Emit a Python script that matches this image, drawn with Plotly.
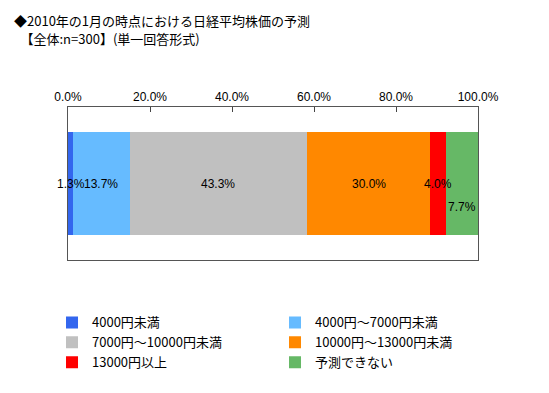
import plotly.graph_objects as go

categories = ["4000円未満", "4000円～7000円未満", "7000円～10000円未満",
              "10000円～13000円未満", "13000円以上", "予測できない"]
values = [1.3, 13.7, 43.3, 30.0, 4.0, 7.7]
colors = ["#3366EE", "#66BBFF", "#C0C0C0", "#FF8800", "#FF0000", "#66B866"]
label_yshift = [0, 0, 0, 0, 0, -23]
tick_vals = [0, 0.2, 0.4, 0.6, 0.8, 1.0]
title_lines = ["◆2010年の1月の時点における日経平均株価の予測",
               "　【全体:n=300】(単一回答形式)"]

W, H = 541, 385  # page body adds an 8px offset

fig = go.Figure()
for name, v, c in zip(categories, values, colors):
    fig.add_trace(go.Bar(
        x=[v / 100], y=["全体"], name=name, orientation="h",
        marker=dict(color=c, line=dict(width=0)),
        hoverinfo="skip",
    ))

cum = 0
for v, ys in zip(values, label_yshift):
    fig.add_annotation(x=(cum + v / 2) / 100, y="全体", text=f"{v:.1f}%",
                       showarrow=False, yshift=ys,
                       font=dict(family="Liberation Sans, Arial", size=12, color="#000"))
    cum += v

fig.update_layout(
    width=W, height=H,
    barmode="stack", bargap=0.327,
    plot_bgcolor="white", paper_bgcolor="white",
    margin=dict(l=60, r=71, t=99, b=133, autoexpand=False),
    font=dict(family="Noto Sans CJK JP", size=12, color="#000"),
    xaxis=dict(side="top", range=[0, 1], tickvals=tick_vals, tickformat=".1%",
               ticks="inside", ticklen=5, tickcolor="#444",
               showline=True, linecolor="#555", linewidth=1, mirror=True,
               showgrid=False, zeroline=False, automargin=False,
               tickfont=dict(family="Liberation Sans, Arial", size=12)),
    yaxis=dict(showticklabels=False, showline=True, linecolor="#555", linewidth=1,
               mirror=True, showgrid=False, ticks="", automargin=False),
    legend=dict(orientation="h",
                x=-0.039, xanchor="left", y=-0.31, yanchor="top",
                entrywidth=178, entrywidthmode="pixels", itemwidth=30,
                font=dict(family="Noto Sans CJK JP", size=13), tracegroupgap=0,
                traceorder="normal"),
    showlegend=True,
)

for line, ys in zip(title_lines, [87, 69]):
    fig.add_annotation(xref="paper", yref="paper", x=-0.137, y=1.0, yshift=ys,
                       xanchor="left", yanchor="middle", align="left", showarrow=False,
                       text=line,
                       font=dict(family="Noto Sans CJK JP", size=13, color="#000"))

fig.write_html("out.html")
